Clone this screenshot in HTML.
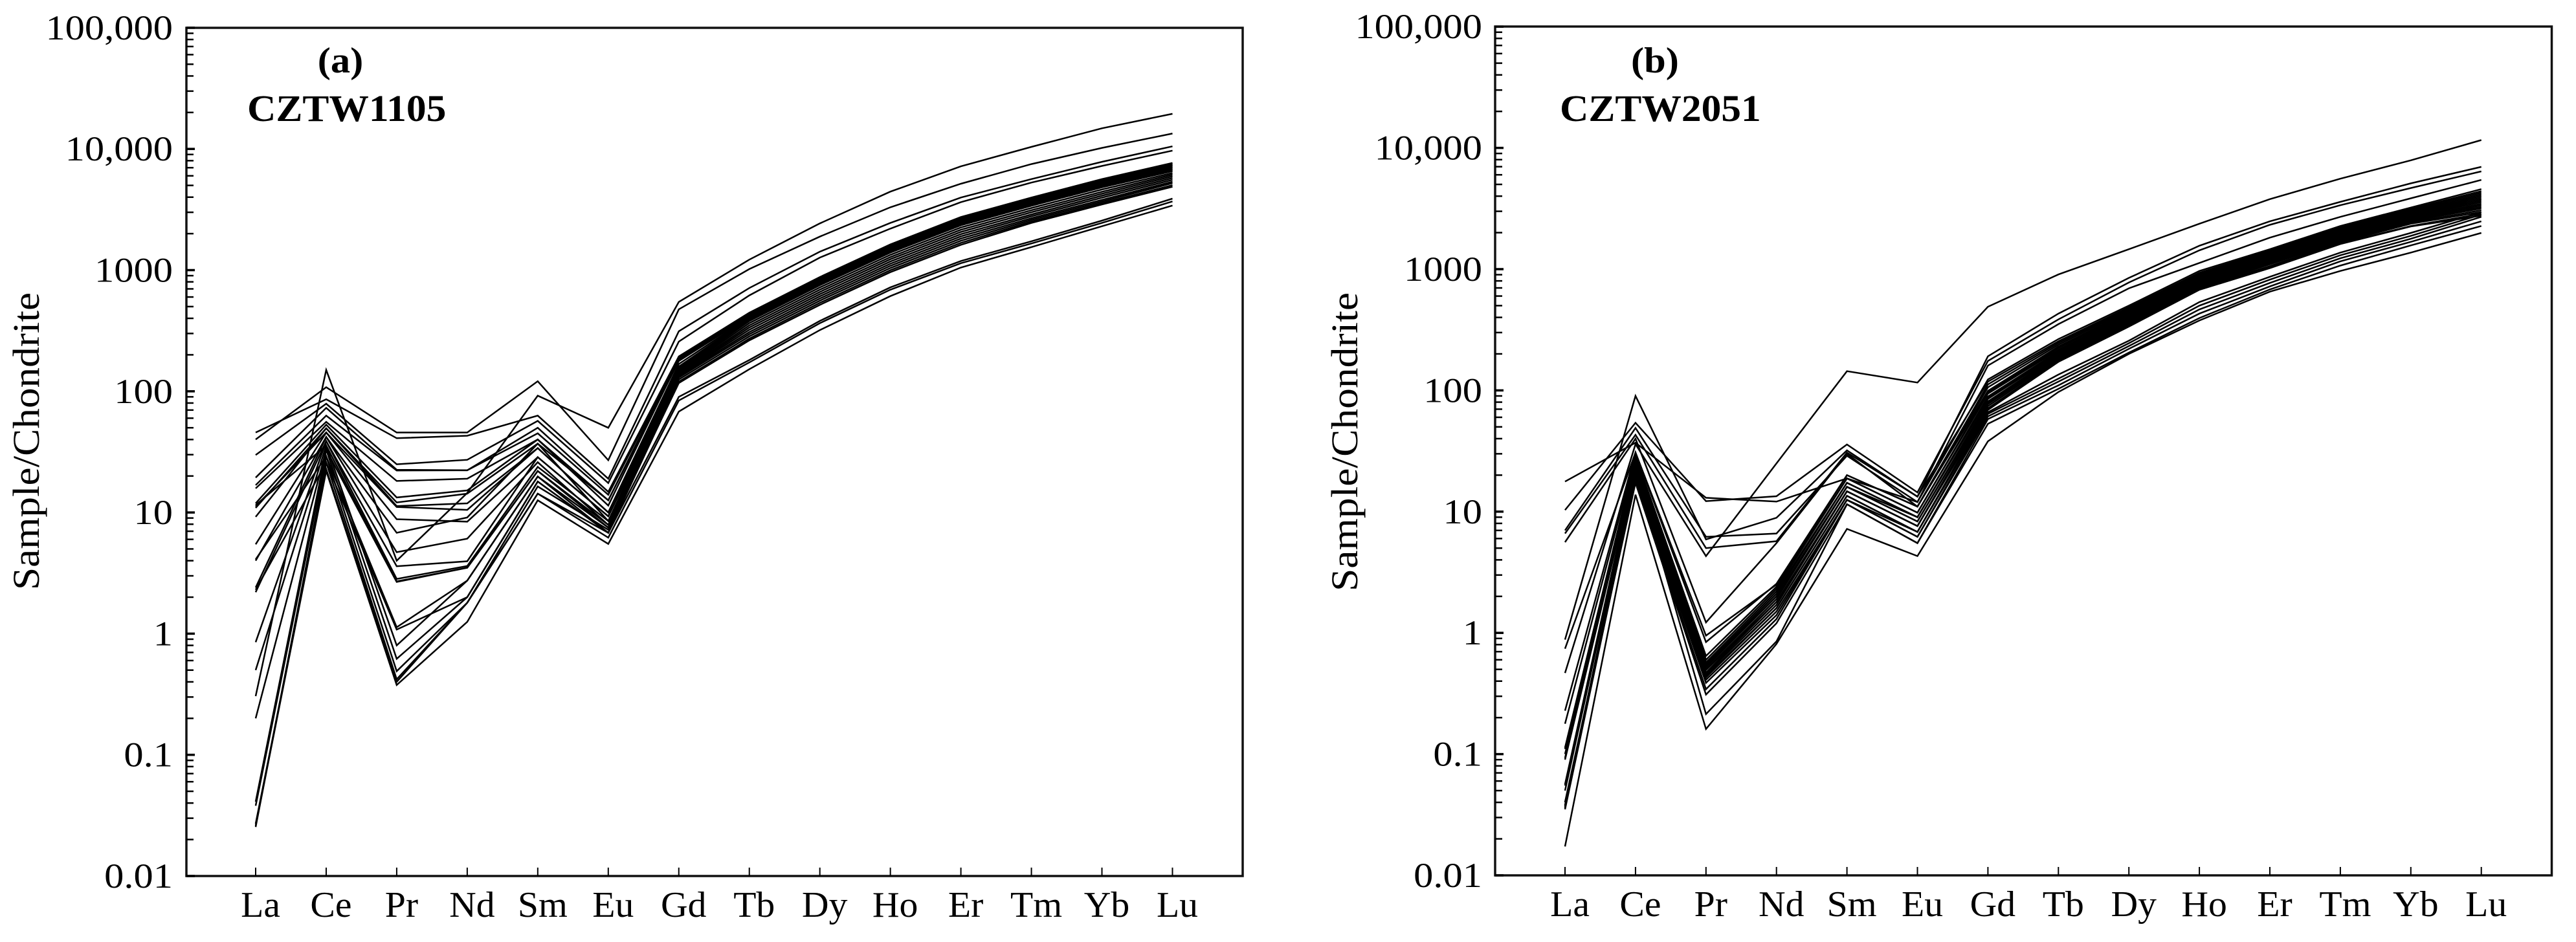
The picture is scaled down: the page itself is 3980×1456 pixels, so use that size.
<!DOCTYPE html>
<html lang="en">
<head>
<meta charset="utf-8">
<title>Chondrite-normalized REE patterns</title>
<style>
html,body{margin:0;padding:0;background:#fff;}
svg{display:block;}
text{font-family:"Liberation Serif",serif;fill:#000;}
</style>
</head>
<body>
<svg id="figure" xmlns="http://www.w3.org/2000/svg" width="3980" height="1456" viewBox="0 0 3980 1456">
<rect x="0" y="0" width="3980" height="1456" fill="#fff"/>
<g id="panel-a"></g>
<g id="panel-b"></g>
<text transform="translate(526,112) scale(1.08,1)" font-size="56" font-weight="bold" text-anchor="middle">(a)</text>
<text transform="translate(382,187) scale(1.06,1)" font-size="58" font-weight="bold">CZTW1105</text>
<text transform="translate(60,682) rotate(-90)" font-size="58" text-anchor="middle" textLength="460" lengthAdjust="spacingAndGlyphs">Sample/Chondrite</text>
<text transform="translate(2557,112) scale(1.08,1)" font-size="56" font-weight="bold" text-anchor="middle">(b)</text>
<text transform="translate(2410,187) scale(1.06,1)" font-size="58" font-weight="bold">CZTW2051</text>
<text transform="translate(2097,683) rotate(-90)" font-size="58" text-anchor="middle" textLength="462" lengthAdjust="spacingAndGlyphs">Sample/Chondrite</text>
</svg>
<script>
const categories = ['La','Ce','Pr','Nd','Sm','Eu','Gd','Tb','Dy','Ho','Er','Tm','Yb','Lu'];
const yTickValues = [100000,10000,1000,100,10,1,0.1,0.01];
const yTickLabels = ['100,000','10,000','1000','100','10','1','0.1','0.01'];
const minorMultipliers = [2,3,4,5,6,7,8,9];

const seriesA = [
[0.305,150,4.0,14.5,92,50,546,1220,2430,4440,7180,10400,14800,19500],
[40,108,45.7,45.7,121,27,475,1020,1890,3300,5160,7500,10200,13400],
[45.7,86,41,43,63,19,313,711,1420,2450,3970,5640,7830,10500],
[29.8,79,25,27.2,57,17.5,257,618,1270,2200,3640,5280,7240,9680],
[19.4,73,22.5,22.3,50,14.8,194,445,877,1630,2740,3970,5640,7670],
[16.8,63,22.2,22.3,45,14,190,437,862,1602,2693,3903,5544,7540],
[15.8,56,18.2,19,40,12.6,186,430,847,1575,2647,3835,5448,7409],
[11.9,53,13.3,15.2,40,11.4,182,423,833,1549,2603,3772,5358,7287],
[10.9,49.5,12.1,14.3,37,12.6,178,415,818,1521,2556,3704,5262,7156],
[9.2,49.5,11.3,11.9,34,10,168,408,804,1495,2513,3640,5172,7033],
[11.2,45.7,11.1,10.5,34,10,160,400,789,1467,2466,3573,5076,6903],
[5.46,45.7,8.8,8.4,28.6,9.3,155,394,776,1443,2425,3513,4991,6788],
[4.0,42,6.8,9.1,37,8.5,150,387,763,1418,2384,3454,4907,6673],
[2.4,42,4.7,6.08,26,7.9,147,380,750,1394,2343,3394,4822,6558],
[2.2,38.8,3.6,3.96,28.6,9.3,144,365,719,1337,2247,3255,4625,6328],
[0.85,38.8,2.83,3.62,23.8,8.5,141,350,689,1281,2154,3120,4433,6136],
[0.5,35.7,2.7,3.5,22,7.5,138,336,661,1229,2066,3000,4270,5944],
[0.2,33,2.67,3.5,22,7.9,136,322,634,1178,1981,2880,4110,5752],
[4.1,29,1.13,2.74,19.8,6.8,133,308,608,1130,1899,2780,3960,5560],
[2.3,25.8,1.08,2.0,18,6.8,130,296,583,1084,1822,2680,3800,5369],
[11.5,35.7,0.8,2.74,19.8,7.5,125,284,560,1040,1748,2600,3680,5216],
[0.041,33,0.62,2.0,18,6.8,120,272,537,998,1677,2520,3570,5024],
[0.038,29,0.49,1.8,16.4,7.2,117,263,517,962,1617,2450,3480,4870],
[0.0254,25.8,0.42,1.8,14.3,6.8,90,181,381,720,1190,1730,2560,3890],
[0.027,22.8,0.4,1.8,14.3,6.2,84,173,365,689,1140,1660,2450,3690],
[0.026,22,0.377,1.25,12.6,5.5,68,152,320,610,1050,1550,2300,3410]
];

const seriesB = [
[0.466,36,4.3,25,144,116,490,904,1460,2370,3780,5570,7900,11600],
[0.88,90,5.9,8.9,32,13.3,191,430,847,1560,2480,3590,5100,6980],
[10.3,54,12.2,13.4,35.8,14.4,175,385,776,1430,2320,3365,4670,6400],
[17.7,37,13,12.1,18.8,12,160,352,695,1125,1820,2700,3840,5440],
[7.0,49,6.2,6.6,28.9,12,123,265,500,966,1460,2270,3220,4570],
[6.6,43,5.0,5.7,30.7,13.3,118,254,485,935,1425,2210,3140,4400],
[5.6,40,1.22,5.5,30,11,112,246,472,912,1390,2160,3070,4270],
[0.74,30.7,0.95,2.5,20,11,106,238,460,890,1360,2110,3000,4140],
[0.228,30.7,0.84,2.54,20,11,99,230,448,868,1330,2060,2930,4020],
[0.178,29,0.645,2.4,18.8,9.8,96,223,437,848,1300,2020,2870,3900],
[0.113,28,0.6,2.3,18.8,9.8,94,216,426,828,1270,1975,2810,3790],
[0.11,27,0.57,2.2,17.3,9,89,210,416,808,1245,1935,2750,3680],
[0.1,26,0.55,2.1,17.3,9,87,205,406,790,1220,1895,2690,3570],
[0.093,25,0.537,2.0,16,9,85,200,396,772,1195,1855,2635,3460],
[0.09,24,0.52,2.0,16,8.3,81,196,386,755,1170,1815,2580,3360],
[0.0565,24,0.5,1.9,16,8.3,79,192,376,740,1145,1780,2530,3260],
[0.055,23,0.494,1.8,14.7,7.6,77,188,366,725,1120,1740,2480,3170],
[0.05,22,0.47,1.8,14.7,7.6,74,184,357,710,1095,1700,2420,3060],
[0.0375,22,0.456,1.7,14.7,7.6,71,179,348,695,1060,1665,2370,2960],
[0.037,21,0.44,1.6,13.5,6.8,70,175,340,681,1030,1630,2270,2860],
[0.036,20,0.429,1.6,13.5,6.8,69,172,336,676,1020,1610,2250,2760],
[0.04,19,0.41,1.5,12.5,6.8,66,135,257,535,865,1370,1990,2950],
[0.035,18.5,0.387,1.4,12.5,6.2,64,125,245,500,820,1300,1880,2820],
[0.038,18,0.343,1.3,12.5,6.2,61,118,232,465,770,1230,1780,2700],
[0.04,17.3,0.31,1.2,11.5,5.5,58,110,220,430,720,1160,1680,2480],
[0.036,22,0.214,0.85,11.5,5.5,53,103,205,395,680,1070,1570,2270],
[0.0173,13.8,0.161,0.81,7.2,4.3,38,97,200,377,652,966,1370,1990]
];

const SVGNS = 'http://www.w3.org/2000/svg';

function drawPanel(groupId, series, geom) {
  const group = document.getElementById(groupId);
  const xScale = function (i) { return geom.firstX + i * geom.stepX; };
  const yScale = function (v) { return geom.bottom - (Math.log10(v) + 2) * geom.decade; };

  series.forEach(function (values) {
    const line = document.createElementNS(SVGNS, 'polyline');
    
    
    line.setAttribute('points', values.map(function (v, i) {
      return xScale(i).toFixed(1) + ',' + yScale(v).toFixed(1);
    }).join(' '));
    line.setAttribute('fill', 'none');
    line.setAttribute('stroke', '#000');
    line.setAttribute('stroke-width', '2.5');
    line.setAttribute('stroke-linejoin', 'miter');
    group.appendChild(line);
  });

  const frame = document.createElementNS(SVGNS, 'path');
  
  
  frame.setAttribute('d', 'M' + geom.left + ' ' + geom.bottom + 'V' + geom.top + 'H' + geom.right + 'V' + geom.bottom + 'Z');
  frame.setAttribute('fill', 'none');
  frame.setAttribute('stroke', '#111');
  frame.setAttribute('stroke-width', '3.5');
  group.appendChild(frame);

  categories.forEach(function (name, i) {
    const tick = document.createElementNS(SVGNS, 'line');
    
    
    tick.setAttribute('x1', xScale(i));
    tick.setAttribute('x2', xScale(i));
    tick.setAttribute('y1', geom.bottom);
    tick.setAttribute('y2', geom.bottom - 13);
    tick.setAttribute('stroke', '#000');
    tick.setAttribute('stroke-width', '2');
    group.appendChild(tick);

    const label = document.createElementNS(SVGNS, 'text');
    
    
    label.setAttribute('transform', 'translate(' + (xScale(i) + 7.5) + ',' + (geom.bottom + 63) + ') scale(1.03,1)');
    label.setAttribute('font-size', '56');
    label.setAttribute('text-anchor', 'middle');
    label.textContent = name;
    group.appendChild(label);
  });

  yTickValues.forEach(function (value, i) {
    const tick = document.createElementNS(SVGNS, 'line');
    
    
    tick.setAttribute('x1', geom.left);
    tick.setAttribute('x2', geom.left + 13);
    tick.setAttribute('y1', yScale(value));
    tick.setAttribute('y2', yScale(value));
    tick.setAttribute('stroke', '#000');
    tick.setAttribute('stroke-width', '3.5');
    group.appendChild(tick);

    const label = document.createElementNS(SVGNS, 'text');
    
    
    label.setAttribute('transform', 'translate(' + geom.labelRight + ',' + (yScale(value) + 18) + ') scale(1.12,1)');
    label.setAttribute('font-size', '54');
    label.setAttribute('text-anchor', 'end');
    label.textContent = yTickLabels[i];
    group.appendChild(label);

    if (value < 100000) {
      minorMultipliers.forEach(function (m) {
        const minor = document.createElementNS(SVGNS, 'line');
        
        
        minor.setAttribute('x1', geom.left);
        minor.setAttribute('x2', geom.left + 11);
        minor.setAttribute('y1', yScale(value * m));
        minor.setAttribute('y2', yScale(value * m));
        minor.setAttribute('stroke', '#000');
        minor.setAttribute('stroke-width', '2.5');
        group.appendChild(minor);
      });
    }
  });
}

drawPanel('panel-a', seriesA, {left: 288, right: 1920, top: 43, bottom: 1354, decade: 187.3, firstX: 395, stepX: 108.96, labelRight: 267});
drawPanel('panel-b', seriesB, {left: 2310, right: 3942.5, top: 41, bottom: 1353, decade: 187.4, firstX: 2418, stepX: 108.9, labelRight: 2290});
</script>
</body>
</html>
